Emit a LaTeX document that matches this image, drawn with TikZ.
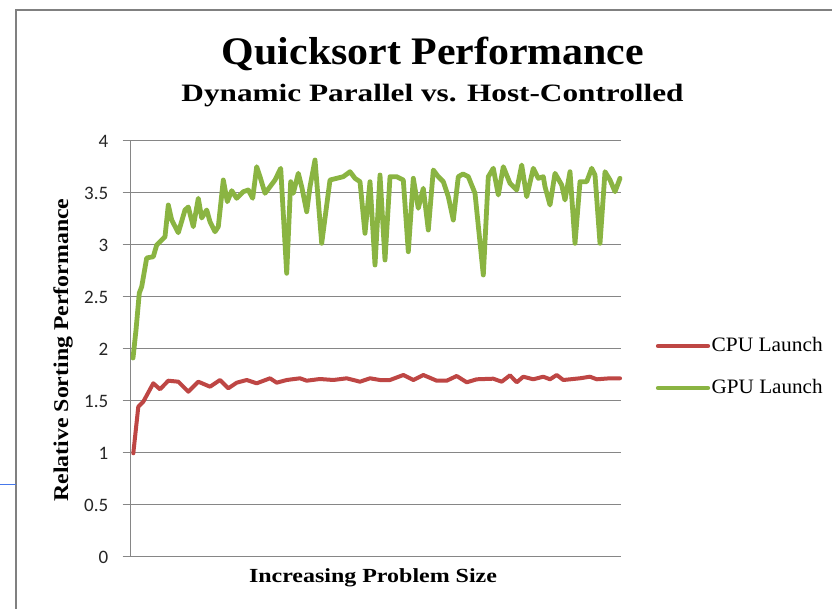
\documentclass[tikz,border=0pt]{standalone}
\usepackage{fontspec}
\usepackage{graphicx}
\setmainfont{Liberation Serif}
\newfontfamily\tickfont{Carlito}
\definecolor{gridgray}{RGB}{134,134,134}
\definecolor{framegray}{RGB}{128,128,128}
\definecolor{cpured}{RGB}{190,70,68}
\definecolor{gpugreen}{RGB}{138,180,66}
\definecolor{edgeblue}{RGB}{70,120,235}
\tikzset{
  gridline/.style={draw=gridgray, line width=1.3pt},
  frameline/.style={draw=framegray, line width=1.6pt},
  cpuline/.style={draw=cpured, line width=4pt, line join=round, line cap=round},
  gpuline/.style={draw=gpugreen, line width=4.8pt, line join=round, line cap=round},
  ticklabel/.style={anchor=base east, inner sep=0pt, font=\tickfont\fontsize{19}{19}\selectfont, text=black!85},
  txt/.style={inner sep=0pt, anchor=base}
}
\begin{document}
\begin{tikzpicture}[x=1pt,y=-1pt]
\useasboundingbox (0,0) rectangle (832,609);
\fill[white] (0,0) rectangle (832,609);
% frame
\coordinate (fbl) at (16,609);
\coordinate (ftl) at (16,10);
\coordinate (ftr) at (832,10);
\draw[frameline] (fbl) -- (ftl) -- (ftr);
\coordinate (bl) at (0,484);
\coordinate (br) at (16,484);
\draw[edgeblue, line width=1pt] (bl) -- (br);
% titles
\node[txt] (title) at (433,65) {\resizebox{422pt}{\height}{\fontsize{39}{39}\selectfont\bfseries Quicksort Performance}};
\node[txt] (subtitle) at (432.5,101.5) {\resizebox{502pt}{\height}{\fontsize{25}{25}\selectfont\bfseries Dynamic Parallel vs. Host-Controlled}};
\node[txt, rotate=90] (ylab) at (68,350) {\resizebox{303pt}{\height}{\fontsize{21}{21}\selectfont\bfseries Relative Sorting Performance}};
\node[txt] (xlab) at (373,582) {\resizebox{248pt}{\height}{\fontsize{20}{20}\selectfont\bfseries Increasing Problem Size}};
% grid
\foreach \v/\lab [count=\i] in {0/0,0.5/0.5,1/1,1.5/1.5,2/2,2.5/2.5,3/3,3.5/3.5,4/4}{
  \coordinate (gl\i) at (122.7,{556.7-104*\v});
  \coordinate (gr\i) at (621,{556.7-104*\v});
  \draw[gridline] (gl\i) -- (gr\i);
  \node[ticklabel] (tl\i) at (108.5,{556.7-104*\v+6.6}) {\lab};
}
\coordinate (axb) at (130.5,556.7);
\coordinate (axt) at (130.5,140.7);
\draw[gridline] (axb) -- (axt);
% CPU series
\draw[cpuline] plot coordinates {(133.3,453.3) (138.3,406.7) (143.3,401.7) (153.3,383.3) (160,389.3) (168.3,380.7) (178.3,381.7) (188.3,391.7) (198.3,381.7) (210,386.7) (220,380) (228.3,388.3) (236.7,382.7) (246.7,380) (256.7,383.3) (270,378.3) (276.7,382.7) (286.7,380) (300,378.3) (306.7,380.7) (320,379) (333.3,380) (346.7,378.3) (360,381.7) (370,378.3) (380,380) (390,380) (403.3,375) (413.3,380) (423.3,375) (436.7,380.7) (446.7,380.7) (456.7,376) (466.7,382.3) (476.7,379.3) (493.3,378.7) (501.7,381.7) (510,375.3) (516.7,382.3) (523.3,376.7) (533.3,379.3) (543.3,376.7) (550,379.3) (556.7,375) (563.3,380) (580,378.3) (590,376.7) (596.7,379.3) (610,378.3) (620,378.3)};
% GPU series
\draw[gpuline] plot coordinates {(133,358) (136,330) (139.3,293) (141.7,286.7) (146.7,258) (153.3,256.7) (156.7,245) (161.7,240) (165,236.7) (168.3,205) (171.7,220) (178.3,232.7) (185,210) (188.3,207) (193.3,226.7) (198.3,198.3) (201.7,218) (206.7,210) (210,221.7) (215,231.7) (218.3,226.7) (223.3,180) (227.3,201.7) (231.7,190.7) (236.7,198.3) (243.3,191.7) (248.3,190) (252.7,198.3) (256.7,166.7) (260,176.7) (265,193.3) (270,186.7) (275,180) (280.7,168.3) (286.7,273.3) (290.7,181.7) (293.3,193.3) (298.3,173.3) (301.7,186.7) (306.7,211.7) (310,186.7) (315,160) (321.7,243.3) (330,180) (336.7,178.3) (343.3,176.7) (350,171.7) (355,178.3) (360,181.7) (365,233.3) (370,181.7) (375,265) (380,175) (385,260) (390,176.7) (396.7,176.7) (403.3,180) (408.3,251.7) (413.3,178.3) (418.3,208.3) (423.3,188.3) (428.3,230) (433.3,170) (438.3,176.7) (443.3,181.7) (448.3,196.7) (453.3,220) (458.3,176.7) (463,174) (468.3,176.7) (475,193.3) (483.3,275) (488.3,176.7) (493.3,168.3) (498.3,195) (503.3,166.7) (510,183.3) (516.7,190) (521.7,165) (526.7,196.7) (533.3,168.3) (538.3,178.3) (543.3,176.7) (545,186.7) (550,205) (555,173.3) (561.7,185) (565,200) (570,171.7) (575,243.3) (580,181.7) (586.7,181.7) (591.7,168.3) (595,175) (600,243.3) (605,171.7) (610,180) (615,191.7) (620,178.3)};
% legend
\coordinate (lc1) at (658,346);
\coordinate (lc2) at (708,346);
\coordinate (lg1) at (658,388);
\coordinate (lg2) at (708,388);
\draw[cpuline, line width=4.2pt] (lc1) -- (lc2);
\draw[gpuline, line width=4.2pt] (lg1) -- (lg2);
\node[txt, anchor=base west] (cpulab) at (711.5,351.7) {\resizebox{111pt}{\height}{\fontsize{20.5}{20.5}\selectfont CPU Launch}};
\node[txt, anchor=base west] (gpulab) at (711.5,393.3) {\resizebox{111pt}{\height}{\fontsize{20.5}{20.5}\selectfont GPU Launch}};
\end{tikzpicture}
\end{document}
